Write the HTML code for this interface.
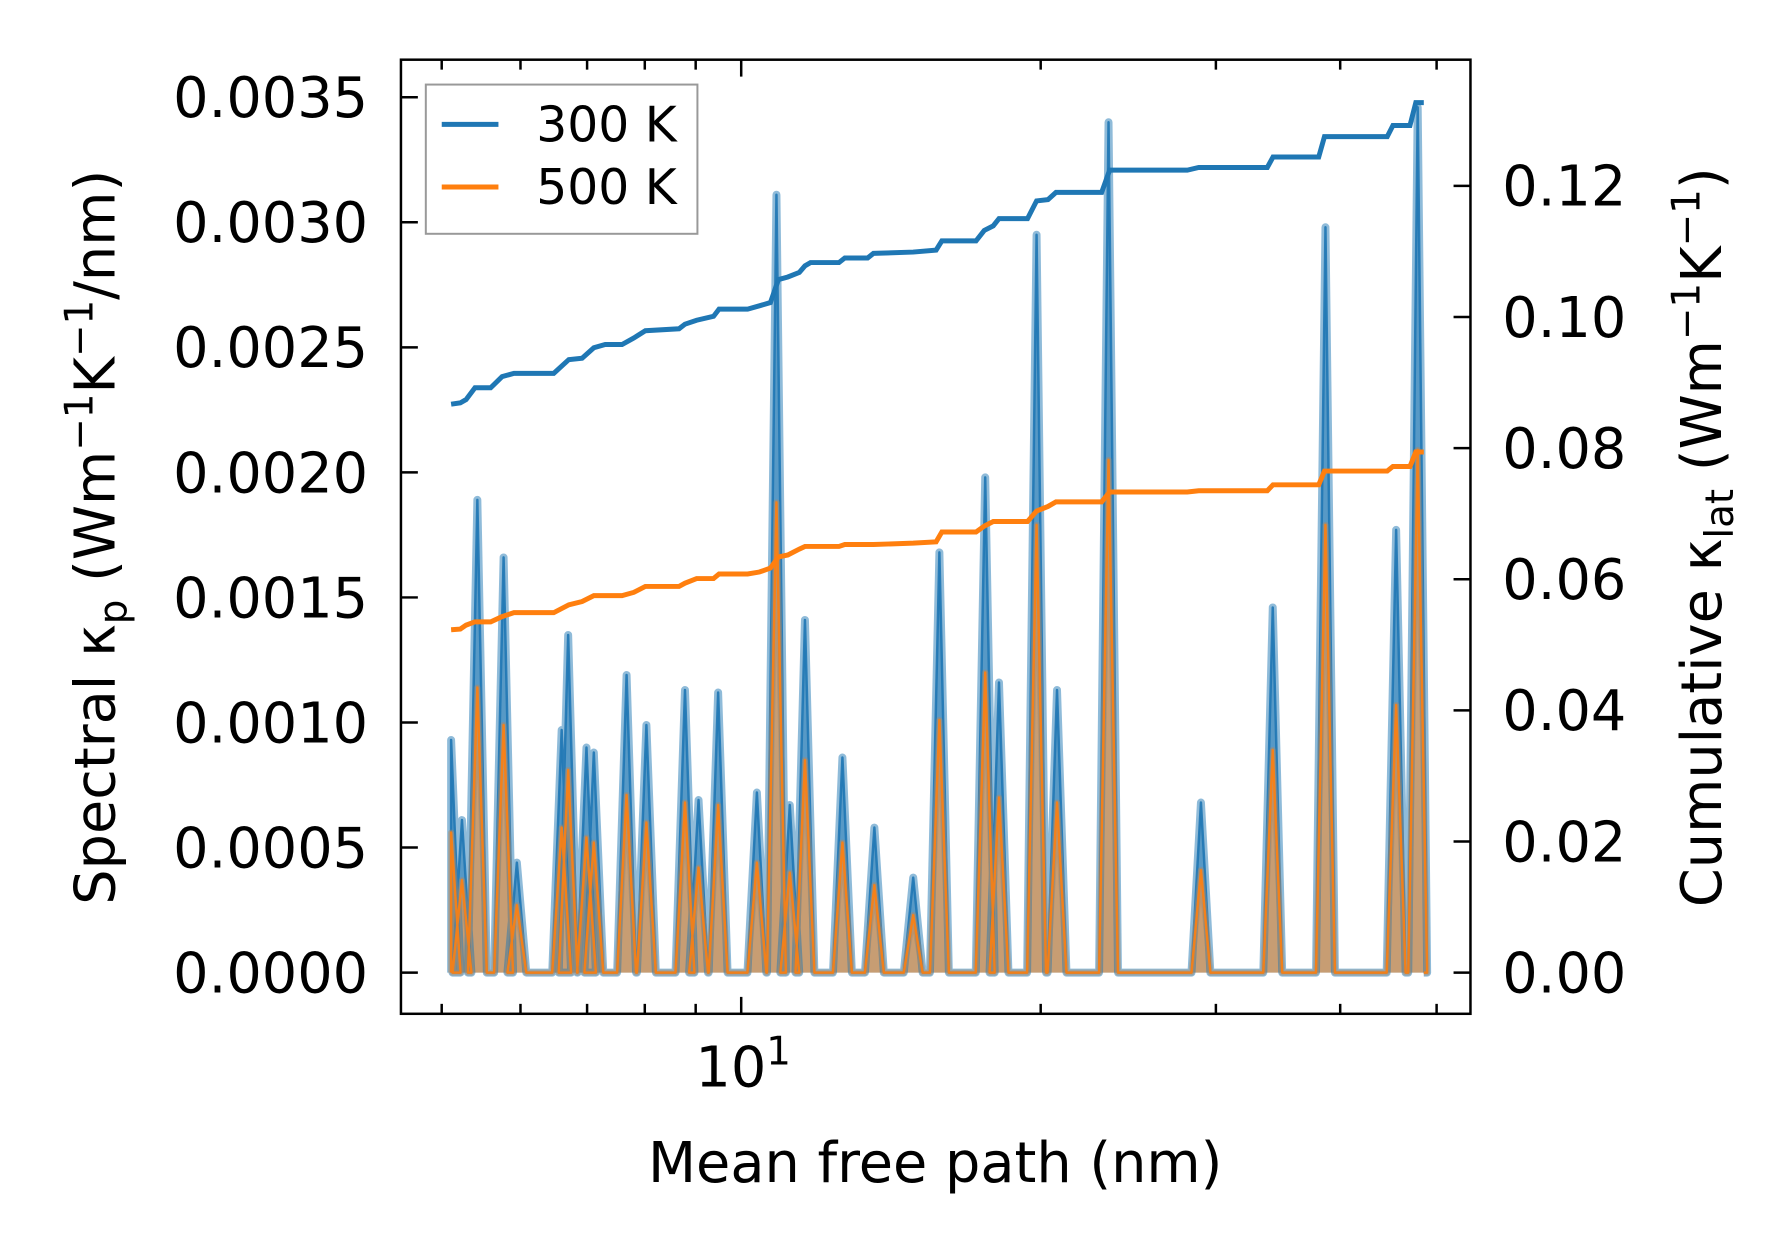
<!DOCTYPE html>
<html><head><meta charset="utf-8"><style>
html,body{margin:0;padding:0;background:#fff}
svg{display:block;font-family:"DejaVu Sans","Liberation Sans",sans-serif}
</style></head><body>
<svg id="chart" xmlns="http://www.w3.org/2000/svg" width="1790" height="1253" viewBox="0 0 1790 1253">
<rect width="1790" height="1253" fill="#fff"/>
<defs><clipPath id="clip"><rect x="403" y="60" width="1075" height="959"/></clipPath></defs>
<g transform="scale(0.9949)">
<g id="marks" clip-path="url(#clip)"></g>
<g id="axes"></g>
<rect x="403" y="60" width="1075" height="959" fill="none" stroke="#000" stroke-width="2.5"/>
<g>
<rect x="428" y="85" width="273" height="150" fill="#fff" fill-opacity="0.8" stroke="#999" stroke-width="2"/>
<line x1="444" y1="125" x2="501" y2="125" stroke="#1f77b4" stroke-width="5"/>
<text x="539" y="142" font-size="49">300 K</text>
<line x1="444" y1="188" x2="501" y2="188" stroke="#ff7f0e" stroke-width="5"/>
<text x="539" y="205" font-size="49">500 K</text>
</g>
<text x="940" y="1188" font-size="56" text-anchor="middle">Mean free path (nm)</text>
<text transform="translate(115,540) rotate(-90)" font-size="56" text-anchor="middle">Spectral κ<tspan font-size="39" dy="12">p</tspan><tspan dy="-12"> (Wm</tspan><tspan font-size="39" dy="-22">−1</tspan><tspan dy="22">K</tspan><tspan font-size="39" dy="-22">−1</tspan><tspan dy="22">/nm)</tspan></text>
<text transform="translate(1730,540) rotate(-90)" font-size="56" text-anchor="middle">Cumulative κ<tspan font-size="39" dy="12">lat</tspan><tspan dy="-12"> (Wm</tspan><tspan font-size="39" dy="-22">−1</tspan><tspan dy="22">K</tspan><tspan font-size="39" dy="-22">−1</tspan><tspan dy="22">)</tspan></text>
</g>
</svg>
<script>
const peakMfp = [5.11,5.24,5.43,5.77,5.95,6.60,6.70,6.99,7.11,7.67,8.03,8.78,9.06,9.48,10.37,10.85,11.19,11.59,12.64,13.61,14.89,15.82,17.59,18.16,19.81,20.77,23.40,28.98,34.22,38.66,45.53,47.86];
const spec300 = [0.00093,0.00061,0.00189,0.00166,0.00044,0.00097,0.00135,0.0009,0.00088,0.00119,0.00099,0.00113,0.00069,0.00112,0.00072,0.00311,0.00067,0.00141,0.00086,0.00058,0.00038,0.00168,0.00198,0.00116,0.00295,0.00113,0.0034,0.00068,0.00146,0.00298,0.00177,0.00346];
const spec500 = [0.00056,0.00037,0.00114,0.00099,0.00027,0.00058,0.00081,0.00054,0.00052,0.00071,0.0006,0.00068,0.00042,0.00067,0.00044,0.00188,0.0004,0.00085,0.00052,0.00035,0.00023,0.00101,0.0012,0.0007,0.00179,0.00068,0.00205,0.00041,0.00089,0.00179,0.00107,0.00209];
const cumMfp = [5.11,5.22,5.29,5.40,5.60,5.75,5.91,6.48,6.71,6.92,7.11,7.30,7.59,7.80,8.01,8.66,8.78,9.02,9.38,9.50,10.15,10.43,10.70,10.90,11.14,11.44,11.59,11.74,12.54,12.71,13.40,13.58,14.89,15.70,15.91,17.22,17.55,17.92,18.16,19.40,19.81,20.34,20.72,23.03,23.46,28.08,28.83,33.79,34.24,38.06,38.57,44.60,45.19,47.01,47.65,48.54];
const cum300 = [.0867,.0869,.0874,.0892,.0892,.0909,.0914,.0914,.0935,.0937,.0953,.0958,.0958,.0968,.0979,.0982,.0989,.0995,.1001,.1012,.1012,.1017,.1022,.1057,.1061,.1068,.1078,.1083,.1083,.109,.109,.1097,.1099,.1102,.1116,.1116,.1132,.1139,.115,.115,.1177,.1179,.119,.119,.1224,.1224,.1228,.1228,.1244,.1244,.1275,.1275,.1292,.1292,.1327,.1327];
const cum500 = [.0523,.0524,.053,.0535,.0535,.0543,.0549,.0549,.0561,.0566,.0575,.0575,.0575,.058,.0589,.0589,.0594,.0601,.0601,.0608,.0608,.0611,.0617,.0634,.0637,.0646,.065,.065,.065,.0653,.0653,.0653,.0655,.0657,.0672,.0672,.0681,.0688,.0688,.0688,.0704,.0711,.0718,.0718,.0733,.0733,.0735,.0735,.0744,.0744,.0765,.0765,.0772,.0772,.0794,.0794];
const leftTicks = [0,0.0005,0.001,0.0015,0.002,0.0025,0.003,0.0035];
const leftTickLabels = ["0.0000","0.0005","0.0010","0.0015","0.0020","0.0025","0.0030","0.0035"];
const rightTicks = [0,0.02,0.04,0.06,0.08,0.10,0.12];
const rightTickLabels = ["0.00","0.02","0.04","0.06","0.08","0.10","0.12"];
const xMinorTicks = [5,6,7,8,9,20,30,40,50];

const NS="http://www.w3.org/2000/svg";
const xScale = v => 745 + 1000*Math.log10(v/10);
const yLeft = v => 977.6 - v/0.0005*125.7;
const yRight = v => 977.6 - v/0.02*131.8;
const marks=document.getElementById('marks'), axes=document.getElementById('axes');
function mk(tag, parent){const e=document.createElementNS(NS,tag);parent.appendChild(e);return e;}

function spectralPoints(vals){
  const hw=0.0095; const pts=[[peakMfp[0],0]];
  peakMfp.forEach((m,i)=>{
    const l=Math.log10(m);
    if(i>0) pts.push([Math.pow(10,l-hw),0]);
    pts.push([m,vals[i]]);
    pts.push([Math.pow(10,l+hw),0]);
  });
  pts.push([cumMfp[cumMfp.length-1],0]);
  return pts.map(p=>[xScale(p[0]),yLeft(p[1])]);
}
function drawSpectral(vals,color,name){
  const pts=spectralPoints(vals);
  const x0=pts[0][0], x1=pts[pts.length-1][0], y0=yLeft(0);
  const area=mk('path',marks);
  
  
  area.setAttribute('d','M'+x0+','+y0+' L'+pts.map(p=>p.join(',')).join(' L')+' L'+x1+','+y0+'Z');
  area.setAttribute('fill',color);area.setAttribute('fill-opacity','0.5');
  return pts;
}
function drawSpecLine(pts,color,w,op,name){
  const l=mk('polyline',marks);
  
  
  l.setAttribute('points',pts.map(p=>p.join(',')).join(' '));
  l.setAttribute('fill','none');l.setAttribute('stroke',color);l.setAttribute('stroke-width',w);
  l.setAttribute('stroke-opacity',op);l.setAttribute('stroke-linejoin','round');
}
const p300=drawSpectral(spec300,'#1f77b4','spectral-300k');
const p500=drawSpectral(spec500,'#ff7f0e','spectral-500k');
drawSpecLine(p300,'#1f77b4',8,0.5,'spectral-300k-halo');
drawSpecLine(p300,'#1f77b4',2.5,0.9,'spectral-300k-line');
drawSpecLine(p500,'#aa8a6a',6,0.5,'spectral-500k-halo');
drawSpecLine(p500,'#ff7f0e',2.5,0.9,'spectral-500k-line');
function drawCum(vals,color,name){
  const l=mk('polyline',marks);
  
  
  l.setAttribute('points',cumMfp.map((m,i)=>xScale(m)+','+yRight(vals[i])).join(' '));
  l.setAttribute('fill','none');l.setAttribute('stroke',color);l.setAttribute('stroke-width',5);
}
drawCum(cum300,'#1f77b4','cumulative-300k');
drawCum(cum500,'#ff7f0e','cumulative-500k');

function tick(x1,y1,x2,y2,name){
  const t=mk('line',axes);
  
  
  t.setAttribute('x1',x1);t.setAttribute('y1',y1);t.setAttribute('x2',x2);t.setAttribute('y2',y2);
  t.setAttribute('stroke','#000');t.setAttribute('stroke-width',2.5);
}
function label(x,y,txt,anchor,name){
  const t=mk('text',axes);
  
  
  t.setAttribute('x',x);t.setAttribute('y',y);t.setAttribute('font-size',56);
  t.setAttribute('text-anchor',anchor);t.textContent=txt;
  return t;
}
leftTicks.forEach((v,i)=>{const y=yLeft(v);tick(403,y,420,y,'left-tick');label(370,y+20,leftTickLabels[i],'end','left-tick-label');});
rightTicks.forEach((v,i)=>{const y=yRight(v);tick(1461,y,1478,y,'right-tick');label(1510,y+20,rightTickLabels[i],'start','right-tick-label');});
xMinorTicks.forEach(v=>{const x=xScale(v);tick(x,1019,x,1009,'x-minor-tick');tick(x,60,x,70,'x-minor-tick-top');});
{const x=xScale(10);tick(x,1019,x,1002,'x-major-tick');tick(x,60,x,77,'x-major-tick-top');
 const t=label(x+2,1092,'10','middle','x-tick-label');
 const s=document.createElementNS(NS,'tspan');s.setAttribute('font-size','39');s.setAttribute('dy','-22');s.textContent='1';t.appendChild(s);}
</script>
</body></html>
